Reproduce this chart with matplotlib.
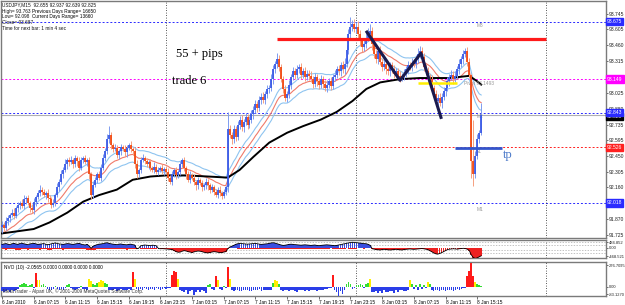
import numpy as np
import matplotlib
matplotlib.use('Agg')
import matplotlib.pyplot as plt
import pandas as pd

# ---------------- data ----------------
first_open = 91.80
closes = [91.82, 91.79, 91.85, 91.88, 91.91, 91.93, 91.90, 91.97, 92.00, 92.02, 91.99,
          92.05, 92.06, 92.02, 91.97, 91.95, 92.03, 92.07, 92.11, 92.14, 92.12,
          92.09, 92.11, 92.06, 92.05, 92.00, 92.02, 92.09, 92.16, 92.21, 92.28,
          92.32, 92.37, 92.41, 92.39, 92.41, 92.37, 92.43, 92.40, 92.34, 92.41,
          92.43, 92.39, 92.41, 92.28, 92.09, 92.18, 92.23, 92.28, 92.25, 92.34,
          92.43, 92.49, 92.60, 92.64, 92.55, 92.51, 92.52, 92.46, 92.49, 92.53,
          92.51, 92.48, 92.52, 92.55, 92.51, 92.49, 92.37, 92.28, 92.32, 92.41,
          92.43, 92.40, 92.37, 92.39, 92.34, 92.32, 92.35, 92.30, 92.32, 92.34,
          92.31, 92.33, 92.30, 92.25, 92.21, 92.28, 92.32, 92.27, 92.30, 92.37,
          92.41, 92.34, 92.28, 92.23, 92.27, 92.25, 92.21, 92.18, 92.23, 92.20,
          92.16, 92.18, 92.21, 92.18, 92.14, 92.16, 92.12, 92.09, 92.14, 92.11,
          92.08, 92.12, 92.16, 92.69, 92.64, 92.60, 92.69, 92.62, 92.73, 92.78,
          92.71, 92.76, 92.80, 92.73, 92.78, 92.83, 92.87, 92.92, 92.89, 92.96,
          92.99, 92.96, 93.01, 93.06, 93.07, 93.15, 93.24, 93.29, 93.33, 93.26,
          93.15, 93.06, 92.98, 93.01, 93.10, 93.17, 93.22, 93.19, 93.24, 93.26,
          93.19, 93.22, 93.17, 93.20, 93.18, 93.15, 93.11, 93.17, 93.13, 93.10,
          93.15, 93.11, 93.07, 93.10, 93.13, 93.09, 93.17, 93.19, 93.24, 93.22,
          93.28, 93.24, 93.29, 93.42, 93.56, 93.63, 93.65, 93.61, 93.63, 93.56,
          93.50, 93.44, 93.47, 93.53, 93.56, 93.59, 93.47, 93.38, 93.33, 93.41,
          93.31, 93.26, 93.29, 93.24, 93.22, 93.28, 93.24, 93.20, 93.22, 93.18,
          93.16, 93.18, 93.20, 93.24, 93.28, 93.26, 93.30, 93.29, 93.33, 93.38,
          93.41, 93.35, 93.26, 93.22, 93.17, 93.15, 93.07, 93.01, 92.95, 92.98,
          92.93, 92.99, 93.04, 93.07, 93.13, 93.17, 93.19, 93.15, 93.18, 93.24,
          93.29, 93.33, 93.38, 93.41, 93.31, 93.19,
          92.40, 92.28, 92.45, 92.60, 92.655, 92.825]

upper_wick_pips = [3,2,4,3,2,3,4,2,3,2, 3,4,2,3,2,4,3,2,3,4, 2,3,2,4,3,2,3,2,4,3,
                   4,3,5,2,3,4,2,3,2,4, 3,2,3,2,3,2,4,3,2,3, 3,4,3,5,8,3,2,4,3,2,
                   3,2,4,3,2,3,2,3,4,2, 3,4,2,3,2,3,2,4,2,3, 2,3,2,3,4,2,3,2,3,2,
                   3,2,3,2,3,4,2,3,2,3, 2,3,2,4,3,2,3,2,3,2, 3,2,3,2,16,4,3,4,3,4,
                   3,4,3,4,3,3,4,3,4,3, 4,3,4,3,4,3,5,4,3,6, 4,3,3,4,3,4,3,4,3,4,
                   3,4,3,4,3,3,4,3,4,3, 3,4,3,3,4,3,4,3,4,3, 4,3,4,5,4,5,9,4,5,4,
                   5,4,3,4,5,6,6,4,3,4, 3,4,3,4,3,4,3,3,4,3, 3,4,3,4,3,4,3,4,3,4,
                   5,4,3,4,3,4,3,4,3,4, 3,4,3,4,3,4,3,4,3,4, 3,4,3,4,2,3,3,1,38,4,
                   5,3,11]
lower_wick_pips = [6,3,2,3,4,2,3,2,3,4, 2,3,4,2,3,2,3,4,2,3, 3,2,4,3,2,3,2,3,2,3,
                   2,3,2,4,3,2,3,2,4,3, 2,3,2,3,4,4,3,2,3,2, 3,2,3,2,3,4,3,2,3,4,
                   3,2,3,4,2,3,3,3,3,2, 3,2,3,2,4,3,2,3,2,3, 2,3,4,2,3,2,3,2,3,2,
                   3,2,3,4,2,3,2,3,4,3, 2,3,2,3,4,3,2,3,2,3, 3,3,2,3,4,3,4,3,4,3,
                   4,3,4,3,4,3,3,4,3,4, 3,4,3,4,3,4,3,4,3,4, 4,3,4,3,4,3,4,3,4,3,
                   3,4,3,4,3,4,3,4,3,4, 4,3,4,3,4,3,4,3,4,3, 3,4,3,4,3,4,3,4,3,4,
                   4,5,4,3,4,3,4,5,4,3, 4,3,4,3,4,3,4,3,4,3, 3,4,3,4,3,4,3,4,3,4,
                   3,4,3,4,3,4,3,4,3,4, 4,3,4,3,4,3,4,3,4,3, 3,4,3,4,3,4,3,15,11,3,
                   3,3,2]

slow_ma_bars = [0, 16, 24, 33, 41, 49, 58, 66, 75, 83, 93, 104, 114, 120, 127, 135, 144,
                152, 161, 169, 177, 184, 191, 201, 211, 226, 236, 240, 242]
slow_ma_vals = [91.74, 91.78, 91.84, 91.93, 92.03, 92.09, 92.14, 92.23, 92.26, 92.27,
                92.27, 92.26, 92.25, 92.32, 92.44, 92.57, 92.66, 92.72, 92.78, 92.85,
                92.95, 93.06, 93.12, 93.15, 93.16, 93.16, 93.18, 93.13, 93.10]
fast_ma_period = 21
fast_ma_seed = 91.74
band_offset = 0.07

price_ticks = [93.745, 93.605, 93.460, 93.315, 93.025, 92.880, 92.735, 92.595,
               92.450, 92.305, 92.160, 91.870, 91.725]
level_names = ['M3', 'Pivot', 'M2', 'S1', 'M1']
level_prices = [93.675, 93.149, 92.843, 92.526, 92.018]
level_colors = ['#2a2aff', '#ff00ff', '#2a2aff', '#ff2020', '#2a2aff']
bid_price = 92.825

resist_price, resist_from, resist_to = 93.516, 139, 275
zigzag_bars = [184.3, 201.0, 211.6, 221.7]
zigzag_prices = [93.580, 93.139, 93.387, 92.800]
entry_price, entry_from, entry_to = 93.112, 210, 230
tp_price, tp_from, tp_to = 92.524, 229, 252.5

nvo = [-45,-60,-50,-40,-55,-35,-50,-30,-20, 20,35,45,30,15, 25,40, -10,160,85,75, 20,35,10,
       -25,-35,-30,-20,15,-25,-35,-20,-30,-15,20,30,-10,-25,-30,-20,-15,15,-20,-25,-30,
       90,70,40,25, 45,60,75,70,50,30,
       -30,-40,-35,-25,-45,-30,-20,-35,-40,-30,-25,-35, 175,95,
       -20,-30,-25,-35,-15,-25,-30,-20,-25,-35,-15,-20,-30,-25,-10,-20,-15,
       -10,140,185,170,90,
       -30,-45,-60,-40,-80,-50,-35,-90,-60,-40,-55,-30,-45,-70,25,30,-20,-30,
       130,85,-20,-30,10, -15,225,90,
       -35,-45,-40,-30,-50,-45,-35,-40,-30,-45,-50,-35,-40,-30,-25,-45,-40,-35,-30,-40,-35,
       50,75,65,40,
       -30,-45,-40,-35,-50,-40,-30,-45,-55,-40,-35,-30,-45,-40,-50,-35,-30,-40,-45,-35,-30,-40,-20,-25,-10,
       -15,140, -30,-60,-100,-45,-80,-40, 40,55,30, -20,-15,20, 25,35,20,-15,30,45, 90,
       -55,-60,-45,-70,-50,-65,-40,-55,-60,-50,-45,-65,-40,-55,-35,-30,-50,-45,-40,
       80, 30,-20,25,-30,40,-25,20,-15,60,35,
       -35,-45,-30,-40,-50,-35,-40,-45,-30,-35,-40,-50,-30,-25,-35,-20,-15,
       -10, 130,185,277,130, 60,40,20,15]
nvo_labels = ['276.7095', '0.00', '-83.1270']

osc = [150,170,190,160,140,180,200,170,150,190,210,180,160,140,170,190,200,180,150,160,
       170,190,160,140,150,180,200,220,190,170,160,150,170,190,180,160,150,170,190,200,
       160,140,120,150,80,-40,60,100,140,160,
       170,190,210,230,200,180,160,150,140,160,170,150,140,130,150,160,140,120,-60,-40,
       80,100,120,110,100,90,110,100,80,
       -50,-60,-55,-60,-70,-80,-90,-100,
       -150,-200,-230,-220,-180,-150,-170,-200,-220,-240,-210,-190,-170,-180,-200,-230,
       -250,-260,-240,-220,-200,-210,-230,-250,-240,-220,-200,
       -60,20,60,100,150,180,200,
       190,180,170,160,170,180,190,200,180,160,150,160,170,180,200,220,230,210,180,150,
       120,100,110,130,150,160,150,140,130,120,110,120,130,120,110,100,110,120,100,90,
       100,110,120,130,120,110,100,90,100,120,140,160,180,
       200,220,240,250,240,230,220,210,200,190,180,150,100,
       -60,-80,-100,-110,-120,-100,-90,-100,-110,-120,-110,-100,-90,-100,-110,-120,-100,
       -90,-80,-70,-80,-90,-80,-70,-60,-50,-60,-80,-100,
       -150,-200,-260,-300,-320,-290,-250,-200,-150,
       -100,-80,-70,-60,-70,-80,-60,-50,-40,-50,-80,
       -150,-350,-480,-520,-500,-450,-400]
osc_under = ([-80,-90,-100,-90,-80,-70,-90,-100,-110,-100, -90,-80,-90,-100,-90,-80,-70,-80,-90,-100,
              -90,-80,-90,-100,-110,-100,-90,-80,-70,-80, -90,-100,-90,-80,-70,-60,-70,-80,-90,-80,
              -70,-80,-90,-100,-110,-120,-110,-100,-90,-80, -70,-60,-50,-60,-70,-80,-90,-80,-70,-60,
              -70,-80,-90,-100,-90,-80,-70,-60,0,0, -60,-70,-80,-90,-80,-70,-60,-70,-80]
             + [0] * 35
             + [0,0,0,-30,-40,-50,-60, -70,-80,-90,-80,-70,-60,-70,-80,-90,-80,
                -70,-60,-50,-60,-70,-80,-90,-80,-70,-60, -50,-60,-70,-80,-70,-60,-50,-60,-70,-80,
                -90,-80,-70,-60,-70,-80,-90,-80,-70,-60, -50,-60,-70,-60,-50,-40,-50,-60,-70,-80,
                -70,-60,-50,-40,-50,-60,-70,-60,-50,-40, -30,-40,-50]
             + [0] * 56)
osc_labels = ['484.852', '0.00', '-468.521']

start_time = '2010-01-06 03:15'
separator_bars = [83, 179, 275]

# ---------------- figure ----------------
W, H = 625, 305
fig = plt.figure(figsize=(W / 100, H / 100), dpi=100)
fig.patch.set_facecolor('white')
plt.rcParams['font.family'] = ['Liberation Sans', 'DejaVu Sans']


def axes_px(x0, y0, x1, y1):
    return fig.add_axes([x0 / W, 1 - y1 / H, (x1 - x0) / W, (y1 - y0) / H])


PX_PER_BAR = 1.98
XL = (1 - 2) / PX_PER_BAR
XR = (606 - 2) / PX_PER_BAR
TINY = 3.4
AXF = 3.6

ax = axes_px(1, 1, 606, 238)
ax1 = axes_px(1, 240, 606, 258)
ax2 = axes_px(1, 262, 606, 296)
for a in (ax, ax1, ax2):
    a.set_xlim(XL, XR)
    a.set_facecolor('white')
    for s in a.spines.values():
        s.set_color('#7a7a7a')
        s.set_linewidth(1.0)
    a.tick_params(axis='x', which='both', bottom=False, labelbottom=False)
    a.yaxis.tick_right()
    a.tick_params(axis='y', length=1.5, width=0.6, color='#555555', labelsize=AXF,
                  pad=0.5, labelcolor='#222222')

# ---- main panel ----
ax.set_ylim(91.698, 93.864)
ax.set_yticks(price_ticks)
ax.set_yticklabels(['%.3f' % v for v in price_ticks])

c = np.array(closes, dtype=float)
n = len(c)
o = np.concatenate([[first_open], c[:-1]])
hi = np.maximum(o, c) + np.array(upper_wick_pips[:n]) / 100.0
lo = np.minimum(o, c) - np.array(lower_wick_pips[:n]) / 100.0
idx = np.arange(n)
up = c >= o

# level lines
for name, p, col in zip(level_names, level_prices, level_colors):
    ax.axhline(p, color=col, lw=0.7, ls=(0, (2, 2)), zorder=1)
ax.axhline(bid_price, color='#b0b0b0', lw=0.8, zorder=1)
for b in separator_bars:
    for a in (ax, ax1, ax2):
        a.axvline(b, color='#222222', lw=0.6, ls=(0, (1, 2)), zorder=1)

# moving averages
fast = []
e = fast_ma_seed
alpha = 2.0 / (fast_ma_period + 1)
for v in c:
    e = e + alpha * (v - e)
    fast.append(e)
fast = np.array(fast)
ax.plot(idx, fast + band_offset, color='#8ec4f0', lw=0.8, zorder=2)
ax.plot(idx, fast - band_offset, color='#8ec4f0', lw=0.8, zorder=2)
ax.plot(idx, fast, color='#f07a6a', lw=0.8, zorder=2)
ax.plot(slow_ma_bars, slow_ma_vals, color='black', lw=1.4, zorder=3)

# candles
ax.vlines(idx[up], lo[up], hi[up], color='#7f9cf0', lw=0.7, zorder=4)
ax.vlines(idx[~up], lo[~up], hi[~up], color='#f5a080', lw=0.7, zorder=4)
ax.vlines(idx[up], o[up], c[up], color='#3a5ae6', lw=1.3, zorder=5)
ax.vlines(idx[~up], c[~up], o[~up], color='#f24a12', lw=1.3, zorder=5)

# drawn objects
ax.plot([resist_from, resist_to], [resist_price, resist_price], color='#ff1a1a', lw=2.3, zorder=6,
        solid_capstyle='butt')
ax.plot(zigzag_bars, zigzag_prices, color='#1a1a4e', lw=2.2, zorder=7)
ax.plot([entry_from, entry_to], [entry_price, entry_price], color='#ffee00', lw=1.8, zorder=6,
        solid_capstyle='butt')
ax.plot([tp_from, tp_to], [tp_price, tp_price], color='#3355cc', lw=2.0, zorder=6,
        solid_capstyle='butt')

serif = ['Liberation Serif', 'DejaVu Serif']
ax.text(88, 93.38, '55 + pips', fontsize=9, family=serif, va='center', ha='left')
ax.text(86, 93.13, 'trade 6', fontsize=9, family=serif, va='center', ha='left')
ax.text(253, 92.46, 'tp', fontsize=9, family=serif, color='#4a78c8', va='center', ha='left')

lab_x = 239.5
ax.text(lab_x, 93.675 - 0.012, 'M3', fontsize=3.5, color='#999999', va='top', ha='left')
ax.text(lab_x - 6, 93.149 - 0.012, 'Pivot 93.1493', fontsize=3.5, color='#999999', va='top', ha='left')
ax.text(lab_x, 92.843 - 0.012, 'M2', fontsize=3.5, color='#999999', va='top', ha='left')
ax.text(lab_x, 92.526 - 0.012, 'S1', fontsize=3.5, color='#999999', va='top', ha='left')
ax.text(lab_x, 92.018 - 0.04, 'M1', fontsize=3.5, color='#999999', va='top', ha='left')

# price boxes on the right (bid box underneath the M2 box)
box_prices = [bid_price] + level_prices
box_colors = ['black'] + level_colors
for k, (p, col) in enumerate(zip(box_prices, box_colors)):
    ax.annotate('%.3f' % p, xy=(1.0, p), xycoords=('axes fraction', 'data'),
                xytext=(0.6, -1.2 if k == 0 else 0), textcoords='offset points', ha='left',
                va='center', fontsize=AXF, color='white', zorder=10 + k, annotation_clip=False,
                bbox=dict(boxstyle='square,pad=0.25', fc=col, ec=col))

# header text
info = ['USDJPY,M15  92.655 92.937 92.639 92.825',
        'High= 93.763', 'Low= 92.098', 'Close= 93.687', 'Time for next bar: 1 min 4 sec']
info_y = [5, 11, 16.5, 22, 28.5]
for t, yy in zip(info, info_y):
    fig.text(2 / W, 1 - yy / H, t, fontsize=TINY, va='center', ha='left', color='#111111')
fig.text(32 / W, 1 - 11 / H, 'Previous Days Range= 16650', fontsize=TINY, va='center', ha='left')
fig.text(32 / W, 1 - 16.5 / H, 'Current Days Range= 13660', fontsize=TINY, va='center', ha='left')

# ---- oscillator panel ----
osc_a = np.array(osc, dtype=float)
osc_u = np.array(osc_under, dtype=float)
oi = np.arange(len(osc_a))
ui = np.arange(len(osc_u))
ax1.set_ylim(-504, 360)
ax1.bar(ui, osc_u, width=1.0, color='#ee2020', lw=0, zorder=2)
ax1.bar(oi[osc_a >= 0], osc_a[osc_a >= 0], width=0.9, color='#3a4ee0', lw=0, zorder=3)
ax1.bar(oi[osc_a < 0], osc_a[osc_a < 0], width=0.9, color='#ee2020', lw=0, zorder=3)
ax1.plot(oi, osc_a, color='black', lw=0.6, zorder=4)
for lv in (250, 100, -100, -250):
    ax1.axhline(lv, color='#aaaaaa', lw=0.5, ls=(0, (2, 2)), zorder=1)
ax1.set_yticks([250, 0, -430])
ax1.set_yticklabels(osc_labels)
ax1.tick_params(axis='y', labelsize=3.0)

# ---- NVO panel ----
nv = np.array(nvo, dtype=float)
ni = np.arange(len(nv))
cols = np.where(nv < 0, '#2a3ee8', np.where(nv < 60, '#33dd33', np.where(nv < 100, '#ffee00', '#ff1a1a')))
ax2.set_ylim(-104, 288)
ax2.bar(ni, nv, width=0.85, color=cols, lw=0, zorder=3)
ax2.set_yticks([250, 0, -83.127])
ax2.set_yticklabels(nvo_labels)
ax2.tick_params(axis='y', labelsize=2.9, pad=0.3)
ax2.text(0.005, 0.85, 'NVO (10) -2.0565 0.0000 0.0000 0.0000 0.0000', transform=ax2.transAxes,
         fontsize=TINY, va='center', ha='left')
ax2.text(0.004, 0.14, 'MetaTrader - Alpari UK, \u00a9 2001-2009 MetaQuotes Software Corp.',
         transform=ax2.transAxes, fontsize=TINY, va='center', ha='left', color='#333333', zorder=5)

# time axis
times = pd.date_range(start_time, periods=n, freq='15min')
tick_pos = list(range(0, n, 16))
tick_lab = []
for k, p in enumerate(tick_pos):
    t = times[p]
    tick_lab.append('%d %s %d' % (t.day, t.strftime('%b'), t.year) if k == 0
                    else '%d %s %s' % (t.day, t.strftime('%b'), t.strftime('%H:%M')))
ax2.set_xticks(tick_pos)
ax2.set_xticklabels(tick_lab, ha='left')
ax2.tick_params(axis='x', bottom=True, labelbottom=True, length=2, width=0.6, pad=1,
                labelsize=TINY, color='#555555')

fig.savefig('out.png', dpi=100)
